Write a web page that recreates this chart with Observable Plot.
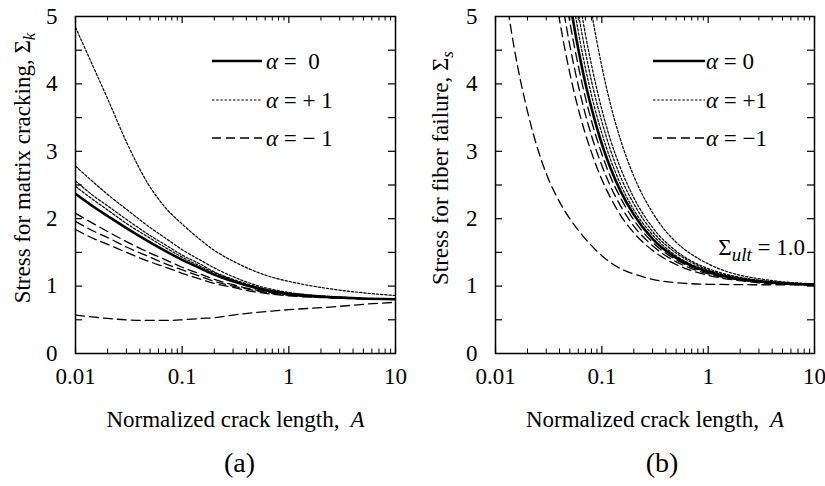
<!DOCTYPE html>
<html><head><meta charset="utf-8">
<script src="https://cdn.jsdelivr.net/npm/d3@7"></script>
<script src="https://cdn.jsdelivr.net/npm/@observablehq/plot@0.6"></script>
<style>
body{margin:0;background:#fff;}
#row{display:flex;width:825px;height:486px;overflow:hidden;background:#fff}
#row svg{flex:none}
</style>
</head><body><div id="row"></div>
<script>
// ---------- data ----------
const xTickVals = [0.01, 0.1, 1, 10];
const xTickLabels = ["0.01", "0.1", "1", "10"];
const xMinorVals = [0.02,0.03,0.04,0.05,0.06,0.07,0.08,0.09,0.2,0.3,0.4,0.5,0.6,0.7,0.8,0.9,2,3,4,5,6,7,8,9];
const yTickVals = [0, 1, 2, 3, 4, 5];
const yTickLabels = ["0", "1", "2", "3", "4", "5"];
const yMinorVals = [0.5,1,1.5,2,2.5,3,3.5,4,4.5];

// (a) matrix cracking
const gridA = [0.01, 0.015, 0.02, 0.03, 0.05, 0.07, 0.1, 0.15, 0.2, 0.3, 0.5, 0.7, 1, 2, 3, 5, 10];
const a_alpha0  = [2.37, 2.17, 2.04, 1.86, 1.65, 1.52, 1.39, 1.26, 1.17, 1.07, 0.97, 0.92, 0.885, 0.845, 0.83, 0.815, 0.805];
const a_plus_1  = [4.84, 4.22, 3.78, 3.14, 2.47, 2.16, 1.92, 1.68, 1.53, 1.37, 1.21, 1.13, 1.07, 0.98, 0.94, 0.90, 0.86];
const a_plus_2  = [2.78, 2.53, 2.36, 2.14, 1.87, 1.71, 1.54, 1.38, 1.27, 1.14, 1.01, 0.95, 0.905, 0.855, 0.84, 0.815, 0.805];
const a_plus_3  = [2.56, 2.33, 2.19, 1.99, 1.75, 1.61, 1.46, 1.32, 1.21, 1.10, 0.99, 0.93, 0.895, 0.85, 0.83, 0.815, 0.805];
const a_plus_4  = [2.48, 2.27, 2.13, 1.93, 1.71, 1.57, 1.43, 1.29, 1.20, 1.09, 0.98, 0.93, 0.89, 0.845, 0.83, 0.815, 0.805];
const a_minus_1 = [2.08, 1.92, 1.81, 1.66, 1.49, 1.39, 1.28, 1.175, 1.10, 1.02, 0.94, 0.90, 0.87, 0.835, 0.825, 0.815, 0.805];
const a_minus_2 = [1.96, 1.81, 1.72, 1.58, 1.43, 1.33, 1.24, 1.14, 1.07, 1.00, 0.93, 0.89, 0.865, 0.835, 0.82, 0.81, 0.805];
const a_minus_3 = [1.84, 1.70, 1.62, 1.50, 1.36, 1.28, 1.19, 1.10, 1.04, 0.98, 0.91, 0.88, 0.855, 0.83, 0.82, 0.81, 0.805];
const a_minus_4 = [0.57, 0.54, 0.52, 0.50, 0.49, 0.49, 0.50, 0.52, 0.53, 0.57, 0.61, 0.63, 0.65, 0.68, 0.70, 0.73, 0.76];

// (b) fiber failure
const gridB = [0.03, 0.04, 0.05, 0.06, 0.07, 0.08, 0.1, 0.12, 0.15, 0.2, 0.3, 0.5, 0.7, 1, 2, 3, 5, 10];
const b_alpha0  = [null, null, 5.22, 4.52, 4.01, 3.64, 3.11, 2.76, 2.41, 2.06, 1.70, 1.42, 1.30, 1.21, 1.105, 1.07, 1.042, 1.021];
const b_plus_1  = [null, 6.67, 5.53, 4.78, 4.24, 3.83, 3.27, 2.89, 2.51, 2.13, 1.76, 1.45, 1.32, 1.23, 1.11, 1.076, 1.045, 1.023];
const b_plus_2  = [null, null, 5.87, 5.06, 4.48, 4.04, 3.44, 3.03, 2.62, 2.22, 1.81, 1.49, 1.35, 1.24, 1.12, 1.08, 1.049, 1.024];
const b_plus_3  = [null, null, 6.24, 5.37, 4.74, 4.28, 3.62, 3.18, 2.75, 2.31, 1.87, 1.52, 1.37, 1.26, 1.13, 1.087, 1.052, 1.026];
const b_plus_4  = [null, null, null, 6.43, 5.65, 5.07, 4.26, 3.71, 3.17, 2.63, 2.09, 1.65, 1.47, 1.33, 1.16, 1.11, 1.065, 1.033];
const b_minus_1 = [6.27, 4.95, 4.16, 3.63, 3.26, 2.98, 2.58, 2.32, 2.05, 1.79, 1.53, 1.32, 1.23, 1.16, 1.08, 1.05, 1.03, 1.016];
const b_minus_2 = [null, 5.46, 4.57, 3.98, 3.55, 3.23, 2.79, 2.49, 2.19, 1.89, 1.60, 1.36, 1.26, 1.18, 1.09, 1.06, 1.036, 1.018];
const b_minus_3 = [null, 5.90, 4.92, 4.27, 3.80, 3.45, 2.96, 2.63, 2.31, 1.98, 1.65, 1.39, 1.28, 1.196, 1.098, 1.065, 1.039, 1.02];
const gridBfar  = [0.012, 0.015, 0.02, 0.025, 0.03, 0.04, 0.05, 0.06, 0.07, 0.08, 0.1, 0.15, 0.2, 0.3, 0.5, 0.7, 1, 2, 3, 5, 10];
const b_minus_4 = [5.5, 4.53, 3.59, 3.03, 2.67, 2.25, 2.0, 1.83, 1.70, 1.60, 1.45, 1.26, 1.18, 1.10, 1.05, 1.035, 1.027, 1.022, 1.02, 1.02, 1.02];

// ---------- build tables ----------
function rows(id, style, grid, vals) {
  return grid.map((A, i) => ({id, style, A, S: vals[i]}));
}
const dataA = [
  ...rows("a0", "solid", gridA, a_alpha0),
  ...rows("ap1", "dot", gridA, a_plus_1), ...rows("ap2", "dot", gridA, a_plus_2),
  ...rows("ap3", "dot", gridA, a_plus_3), ...rows("ap4", "dot", gridA, a_plus_4),
  ...rows("am1", "dash", gridA, a_minus_1), ...rows("am2", "dash", gridA, a_minus_2),
  ...rows("am3", "dash", gridA, a_minus_3), ...rows("am4", "dash", gridA, a_minus_4)
];
const dataB = [
  ...rows("b0", "solid", gridB, b_alpha0),
  ...rows("bp1", "dot", gridB, b_plus_1), ...rows("bp2", "dot", gridB, b_plus_2),
  ...rows("bp3", "dot", gridB, b_plus_3), ...rows("bp4", "dot", gridB, b_plus_4),
  ...rows("bm1", "dash", gridB, b_minus_1), ...rows("bm2", "dash", gridB, b_minus_2),
  ...rows("bm3", "dash", gridB, b_minus_3), ...rows("bm4", "dash", gridBfar, b_minus_4)
];

const FONT = "'Liberation Serif', 'DejaVu Serif', 'Times New Roman', serif";
const H = 486, MT = 16, MB = 133;

function panel({data, width, ml, mr, ytitle, caption, capDx, titleDx}) {
  const iw = width - ml - mr, ih = H - MT - MB;
  const styles = {
    solid: {strokeWidth: 2.6},
    dot: {strokeWidth: 1.2, strokeDasharray: "2.4,1.8"},
    dash: {strokeWidth: 1.3, strokeDasharray: "9,5"}
  };
  const lineMarks = ["dash", "dot", "solid"].map(s =>
    Plot.line(data.filter(d => d.style === s && d.S != null), {
      x: "A", y: "S", z: "id", stroke: "black", curve: "monotone-x", clip: true, ...styles[s]
    }));
  return Plot.plot({
    width, height: H, marginLeft: ml, marginRight: mr, marginTop: MT, marginBottom: MB,
    style: {fontFamily: FONT, fontSize: "23px", background: "white", color: "black", overflow: "visible"},
    x: {type: "log", domain: [0.01, 10], axis: null},
    y: {domain: [0, 5], axis: null},
    marks: [
      ...lineMarks,
      Plot.tickY(yMinorVals, {y: d => d, insetRight: iw - 7, stroke: "black", strokeWidth: 1.2}),
      Plot.tickY(yMinorVals, {y: d => d, insetLeft: iw - 7, stroke: "black", strokeWidth: 1.2}),
      Plot.tickX(xTickVals, {x: d => d, insetTop: ih - 7, stroke: "black", strokeWidth: 1.2}),
      Plot.tickX(xTickVals, {x: d => d, insetBottom: ih - 7, stroke: "black", strokeWidth: 1.2}),
      Plot.tickX(xMinorVals, {x: d => d, insetTop: ih - 4.5, stroke: "black", strokeWidth: 1}),
      Plot.tickX(xMinorVals, {x: d => d, insetBottom: ih - 4.5, stroke: "black", strokeWidth: 1}),
      Plot.frame({stroke: "black", strokeWidth: 1.5}),
      Plot.text(yTickVals, {y: d => d, text: (d, i) => yTickLabels[i], frameAnchor: "left", dx: -18, textAnchor: "end", fontFamily: FONT}),
      Plot.text(xTickVals, {x: d => d, text: (d, i) => xTickLabels[i], frameAnchor: "bottom", dy: 30, fontFamily: FONT}),
      Plot.text(["Normalized crack length, A"], {frameAnchor: "bottom", dy: 73, fontSize: 23, fontFamily: FONT}),
      Plot.text([caption], {frameAnchor: "bottom", dy: 118, dx: capDx, fontSize: 28, fontFamily: FONT}),
      Plot.text([ytitle], {frameAnchor: "left", dx: titleDx, dy: -17, rotate: -90, textAnchor: "middle", fontSize: 23, fontFamily: FONT})
    ]
  });
}

function richify(svg, plain, parts) {
  d3.select(svg).selectAll("text").filter(function() { return this.textContent === plain; }).each(function() {
    const t = d3.select(this);
    t.text("");
    parts.forEach(p => {
      const s = t.append("tspan").text(p.t);
      if (p.i) s.attr("font-style", "italic");
      if (p.fs) s.attr("font-size", p.fs);
      if (p.dy) s.attr("dy", p.dy);
      if (p.dx) s.attr("dx", p.dx);
    });
  });
}

function legend(svg, x0, x1, xt, labels) {
  const g = d3.select(svg).append("g").attr("font-family", FONT).attr("font-size", 23).attr("text-anchor", "start");
  const ys = [61, 100, 138];
  const st = [{w: 2.6, d: null}, {w: 1.2, d: "2.4,1.8"}, {w: 1.3, d: "9,5"}];
  labels.forEach((lab, i) => {
    g.append("line").attr("x1", x0).attr("x2", x1).attr("y1", ys[i]).attr("y2", ys[i])
      .attr("stroke", "black").attr("stroke-width", st[i].w).attr("stroke-dasharray", st[i].d);
    const t = g.append("text").attr("x", xt).attr("y", ys[i]).attr("dy", "0.33em")
      .attr("text-anchor", "start").style("white-space", "pre");
    t.append("tspan").attr("font-style", "italic").text("α");
    t.append("tspan").text(lab);
  });
}

const row = document.getElementById("row");

const svgA = panel({data: dataA, width: 412, ml: 75, mr: 17, ytitle: "Stress for matrix cracking, Σk", caption: "(a)", capDx: 4, titleDx: -53});
richify(svgA, "Normalized crack length, A", [{t: "Normalized crack length,"}, {t: "A", i: true, dx: 11}]);
richify(svgA, "Stress for matrix cracking, Σk", [{t: "Stress for matrix cracking, Σ"}, {t: "k", i: true, fs: 17, dy: 5}]);
legend(svgA, 212, 262, 266, [" =  0", " = + 1", " = − 1"]);
row.appendChild(svgA);

const svgB = panel({data: dataB, width: 413, ml: 83, mr: 11, ytitle: "Stress for fiber failure, Σs", caption: "(b)", capDx: 7, titleDx: -55});
richify(svgB, "Normalized crack length, A", [{t: "Normalized crack length,"}, {t: "A", i: true, dx: 11}]);
richify(svgB, "Stress for fiber failure, Σs", [{t: "Stress for fiber failure, Σ"}, {t: "s", i: true, fs: 17, dy: 5}]);
legend(svgB, 241, 293, 294, [" = 0", " = +1", " = −1"]);
// Sigma_ult annotation
{
  const t = d3.select(svgB).append("text").attr("x", 393).attr("y", 247).attr("dy", "0.33em")
    .attr("text-anchor", "end").attr("font-family", FONT).attr("font-size", 23).style("white-space", "pre");
  t.append("tspan").text("Σ");
  t.append("tspan").attr("font-style", "italic").attr("font-size", 19).attr("dy", 6).text("ult");
  t.append("tspan").attr("dy", -6).text(" = 1.0");
}
row.appendChild(svgB);
</script></body></html>
